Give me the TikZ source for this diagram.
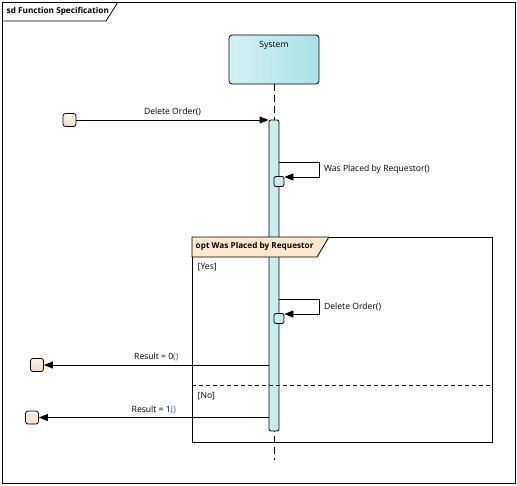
\documentclass[tikz,border=0pt]{standalone}
\usepackage{fontspec}
\setmainfont{Open Sans}
\usepackage{xcolor}
\usetikzlibrary{arrows.meta,positioning}

\definecolor{sysleft}{HTML}{D3F1F3}
\definecolor{sysright}{HTML}{A9E2E6}
\definecolor{actfill}{HTML}{C9ECEF}
\definecolor{gatetop}{HTML}{FDF6EA}
\definecolor{gatebottom}{HTML}{F1DDBD}
\definecolor{tabfill}{HTML}{FBE8CD}
\definecolor{parencol}{HTML}{1F5FD0}

\begin{document}
\begin{tikzpicture}[x=1pt, y=-1pt, thick,
    font=\fontsize{8.6}{10}\selectfont,
    msg/.style={-{Triangle[length=9pt,width=7pt]}},
    gate/.style={draw, rounded corners=2.5pt, minimum size=13pt, inner sep=0pt, top color=gatetop, bottom color=gatebottom},
    exec/.style={draw, rounded corners=2pt, minimum size=10pt, inner sep=0pt, fill=actfill},
    lifeline/.style={dash pattern=on 7pt off 4pt}]
    \useasboundingbox (0,0) rectangle (517,485);

    % Frame
    \node[draw, minimum width=513pt, minimum height=481pt, anchor=north west, inner sep=0pt] (frame) at (2,2) {};
    \draw (frame.north west) ++(0,19) -- ++(104,0) -- (118,2);
    \node[anchor=west, font=\fontsize{8.2}{10}\selectfont\bfseries] (title) at (3,11.5) {sd Function Specification};

    % Lifeline
    \node[draw, rounded corners=3pt, minimum width=90pt, minimum height=49pt, inner sep=0pt,
          left color=sysleft, right color=sysright] (system) at (274,59.5) {};
    \node[below=3pt of system.north] (systemlabel) {System};
    \coordinate (lifeend) at (274,460);
    \draw[lifeline] (system.south) -- (lifeend);

    % Activation
    \node[draw, fill=actfill, rounded corners=2pt, minimum width=10pt, minimum height=311pt, inner sep=0pt] (act) at (274,275.5) {};
    \node[exec] (exec1) at (279,181.5) {};
    \node[exec] (exec2) at (279,318.5) {};

    % Combined fragment
    \node[draw, minimum width=300pt, minimum height=205pt, anchor=north west, inner sep=0pt] (opt) at (192,237) {};
    \draw[fill=tabfill] (opt.north west) -- ++(137,0) -- ++(-12,20) -- ++(-125,0) -- cycle;
    \node[anchor=west, font=\fontsize{8.2}{10}\selectfont\bfseries] (optlabel) at (192,246.5) {opt Was Placed by Requestor};
    \node[anchor=west] (yes) at (194,267) {[Yes]};
    \node[anchor=west] (no) at (194,396) {[No]};
    \draw[dash pattern=on 4pt off 3pt] (opt.west |- 0,385) -- (opt.east |- 0,385);

    % Gates
    \node[gate] (gate1) at (69.5,120) {};
    \node[gate] (gate2) at (37,365) {};
    \node[gate] (gate3) at (32,417.5) {};

    % Messages
    \draw[msg] (gate1) -- (gate1 -| act.west) node[midway, above] {Delete Order()};

    \coordinate (self1) at (act.east |- 0,162);
    \draw[msg] (self1) -- ++(40,0) -- ++(0,15) node[midway, right=1pt] {Was Placed by Requestor()} -- (exec1.east |- 0,177);

    \coordinate (self2) at (act.east |- 0,299);
    \draw[msg] (self2) -- ++(40,0) -- ++(0,15) node[midway, right=1pt] {Delete Order()} -- (exec2.east |- 0,314);

    \draw[msg] (act.west |- gate2) -- (gate2) node[midway, above] {Result = 0\textcolor{parencol}{()}};
    \draw[msg] (act.west |- gate3) -- (gate3) node[midway, above] {Result = 1\textcolor{parencol}{()}};
\end{tikzpicture}
\end{document}
